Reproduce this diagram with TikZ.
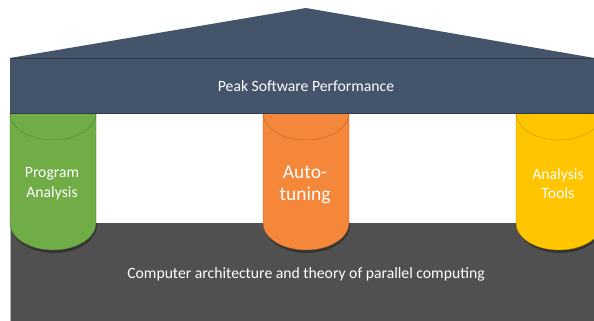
\documentclass[tikz,border=0pt]{standalone}
\usepackage{fontspec}
\setmainfont{Carlito}
\definecolor{roofc}{HTML}{44546A}
\definecolor{basec}{HTML}{505050}
\definecolor{greenc}{HTML}{70AD47}
\definecolor{orangec}{HTML}{F4873A}
\definecolor{yellowc}{HTML}{FFC600}
\tikzset{
  lbl/.style={text=white, font=\fontsize{15.7}{19.5}\selectfont, align=center, inner sep=0pt},
  pillar/.style={draw=#1!70!black, line width=0.4pt},
}
\newcommand{\mypillar}[3]{% x-left, color, name
  \fill[black, opacity=0.35] (#1+1,98) -- (#1+1,96) arc[start angle=180,end angle=360,x radius=43,y radius=28] -- (#1+87,98) -- cycle;
  \filldraw[fill=#2, pillar=#2] (#1,208) -- (#1,98) arc[start angle=180,end angle=360,x radius=43,y radius=27] -- (#1+86,208) -- cycle;
  \draw[#2!75!black, line width=0.4pt] (#1,208) arc[start angle=180,end angle=360,x radius=43,y radius=27];
}
\begin{document}
\begin{tikzpicture}[x=1pt,y=1pt]
\useasboundingbox (0,0) rectangle (594,321);
\begin{scope}
\clip (0,0) rectangle (594,321);
% base
\fill[basec] (10,0) rectangle (600,98);
\draw[gray!60, line width=0.5pt] (10,0) -- (10,98);
% pillars
\mypillar{10}{greenc}{pa}
\mypillar{263}{orangec}{at}
\mypillar{516}{yellowc}{an}
% banner and roof
\fill[roofc] (10,208) rectangle (600,263);
\fill[roofc] (10,263) -- (306,313) -- (600,262) -- cycle;
\draw[roofc!70!black, line width=0.5pt] (10,263) -- (600,263);
\draw[roofc!70!black, line width=0.5pt] (10,208) -- (600,208);
\end{scope}
\node[lbl] (peak) at (306,235) {Peak Software Performance};
\node[lbl] (prog) at (52,137.5) {Program\\Analysis};
\node[lbl, font=\fontsize{19.5}{22}\selectfont] (auto) at (305,136.5) {Auto-\\tuning};
\node[lbl] (tools) at (558,137.5) {Analysis\\Tools};
\node[lbl] (comp) at (306,47) {Computer architecture and theory of parallel computing};
\end{tikzpicture}
\end{document}
